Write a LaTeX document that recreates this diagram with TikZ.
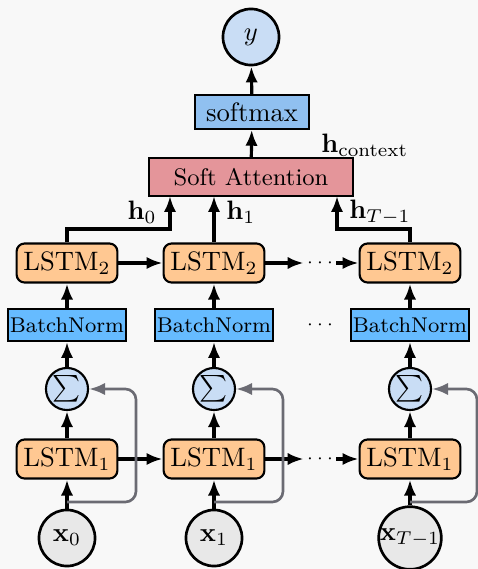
\documentclass[tikz,border=0pt]{standalone}
\usepackage{tikz}
\usetikzlibrary{arrows.meta}
\definecolor{bgcol}{HTML}{F8F8F8}
\definecolor{lstmcol}{HTML}{FFC892}
\definecolor{bncol}{HTML}{66BBFF}
\definecolor{smcol}{HTML}{90C0F0}
\definecolor{attcol}{HTML}{E4959A}
\definecolor{sumcol}{HTML}{C9DDF5}
\definecolor{incol}{HTML}{E8E8E8}
\definecolor{skipcol}{HTML}{6B6B73}
\tikzset{
  lstm/.style={draw=black, fill=lstmcol, line width=0.8pt, rounded corners=3pt,
    minimum width=1.33cm, minimum height=0.515cm, inner sep=0pt},
  bnorm/.style={draw=black, fill=bncol, line width=0.8pt, font=\footnotesize,
    minimum width=1.56cm, minimum height=0.42cm, inner sep=0pt},
  softbox/.style={draw=black, fill=smcol, line width=0.8pt,
    minimum width=1.5cm, minimum height=0.44cm, inner sep=0pt},
  attbox/.style={draw=black, fill=attcol, line width=0.8pt, font=\small,
    minimum width=2.69cm, minimum height=0.5cm, inner sep=0pt},
  sumnode/.style={circle, draw=black, fill=sumcol, line width=0.8pt,
    minimum size=0.555cm, inner sep=0pt},
  innode/.style={circle, draw=black, fill=incol, line width=1pt,
    minimum size=0.74cm, inner sep=0pt},
  outnode/.style={circle, draw=black, fill=sumcol, line width=1pt,
    minimum size=0.74cm, inner sep=0pt},
  dotsnode/.style={font=\scriptsize, inner sep=1pt},
  flow/.style={-{Latex[length=6pt,width=4.6pt]}, line width=1.2pt},
  skip/.style={-{Latex[length=6pt,width=4.6pt]}, line width=1pt, draw=skipcol,
    rounded corners=4pt},
}

\begin{document}
\begin{tikzpicture}[x=0.0132cm, y=-0.0132cm]
\fill[bgcol] (0,0) rectangle (478,569);
\useasboundingbox (0,0) rectangle (478,569);
% top part
\node[outnode] (y) at (251,37) {$y$};
\node[softbox] (smax) at (252,112) {softmax};
\node[attbox] (att) at (251,177) {Soft Attention};
\draw[flow] (smax) -- (y);
\draw[flow] (att) -- (smax);
\node[anchor=west] (hctx) at (312,145) {$\mathbf{h}_{\mathrm{context}}$};
% the three time steps
\foreach \i/\px/\sub in {0/67/0, 1/214/1, 2/410/T-1}{
  \node[lstm] (lstmb\i) at (\px,263) {LSTM$_2$};
  \node[bnorm] (bn\i) at (\px,325) {BatchNorm};
  \node[sumnode] (sum\i) at (\px,389) {$\sum$};
  \node[lstm] (lstma\i) at (\px,459) {LSTM$_1$};
  \node[innode] (x\i) at (\px,538) {$\mathbf{x}_{\sub}$};
  \draw[flow] (x\i) -- (lstma\i);
  \draw[flow] (lstma\i) -- (sum\i);
  \draw[flow] (sum\i) -- (bn\i);
  \draw[flow] (bn\i) -- (lstmb\i);
  \coordinate (sk\i) at (\px,502);
}
\node[dotsnode] (dotsb) at (320,263) {$\cdots$};
\node[dotsnode] (dotsn) at (320,325) {$\cdots$};
\node[dotsnode] (dotsa) at (320,459) {$\cdots$};
% recurrent links
\draw[flow] (lstmb0) -- (lstmb1);
\draw[flow] (lstmb1.east) -- (lstmb1.east -| dotsb.west);
\draw[flow] (lstmb2.west -| dotsb.east) -- (lstmb2.west);
\draw[flow] (lstma0) -- (lstma1);
\draw[flow] (lstma1.east) -- (lstma1.east -| dotsa.west);
\draw[flow] (lstma2.west -| dotsa.east) -- (lstma2.west);
% residual links
\draw[skip] (sk0) -- (136,502) -- (136,389) -- (sum0.east);
\draw[skip] (sk1) -- (283,502) -- (283,389) -- (sum1.east);
\draw[skip] (sk2) -- (477,502) -- (477,389) -- (sum2.east);
% hidden states to attention
\draw[flow] (lstmb0.north) -- (67,229) -- (170,229) -- (170,196);
\draw[flow] (lstmb1.north) -- (214,196);
\draw[flow] (lstmb2.north) -- (410,229) -- (337,229) -- (337,196);
\node[anchor=east] (h0) at (166,212) {$\mathbf{h}_0$};
\node[anchor=west] (h1) at (217,212) {$\mathbf{h}_1$};
\node[anchor=west] (hT) at (340,212) {$\mathbf{h}_{T-1}$};
\end{tikzpicture}
\end{document}
